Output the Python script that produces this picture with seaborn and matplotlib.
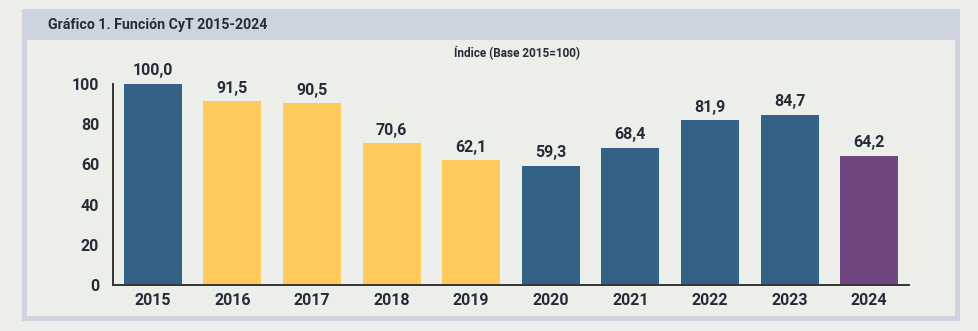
import matplotlib
matplotlib.use("Agg")
import matplotlib.pyplot as plt
from matplotlib.patches import Rectangle
import seaborn as sns
import pandas as pd

years = ["2015", "2016", "2017", "2018", "2019", "2020", "2021", "2022", "2023", "2024"]
values = [100.0, 91.5, 90.5, 70.6, 62.1, 59.3, 68.4, 81.9, 84.7, 64.2]
groups = ["a", "b", "b", "b", "b", "a", "a", "a", "a", "c"]
palette = {"a": "#336286", "b": "#ffc95c", "c": "#6f4680"}
title = "Gráfico 1. Función CyT 2015-2024"
subtitle = "Índice (Base 2015=100)"
yticks = [0, 20, 40, 60, 80, 100]

sns.set_theme(style="white")
plt.rcParams["font.family"] = ["Roboto", "DejaVu Sans"]
txt = "#272b38"

W, H = 979, 331
fig = plt.figure(figsize=(W / 100, H / 100), dpi=100)
bg = "#eceee9"
frame = "#cdd3df"
fig.patch.set_facecolor(bg)

def fr(x0, y0, x1, y1, color, z):
    fig.patches.append(Rectangle((x0 / W, 1 - y1 / H), (x1 - x0) / W, (y1 - y0) / H,
                                 transform=fig.transFigure, facecolor=color,
                                 edgecolor="none", zorder=z))

fr(22, 9, 960, 321, frame, -3)
fr(27, 40, 955, 316, bg, -2)

fig.text(48 / W, 1 - 25 / H, title, fontsize=10.2, fontweight="bold", color=txt,
         va="center", ha="left")
fig.text(517 / W, 1 - 53 / H, subtitle, fontsize=8.5, fontweight="bold", color=txt,
         va="center", ha="center")

ax = fig.add_axes([113 / W, 1 - 285 / H, (909 - 113) / W, (285 - 84) / H])
ax.set_facecolor("none")
df = pd.DataFrame({"year": years, "value": values, "group": groups})
sns.barplot(data=df, x="year", y="value", hue="group", palette=palette,
            dodge=False, legend=False, width=0.73, ax=ax, zorder=3, saturation=1,
            linewidth=0, edgecolor="none")
ax.set_xlim(-0.5, 9.5)
ax.set_ylim(0, 100)
ax.set_xlabel("")
ax.set_ylabel("")
ax.set_yticks(yticks)
ax.set_yticklabels([str(t) for t in yticks])
ax.set_xticks(range(len(years)))
ax.set_xticklabels(years)
ax.set_xticks([i + 0.5 for i in range(len(years))], minor=True)
ax.tick_params(axis="x", which="major", length=0, pad=6, labelsize=11.5, colors=txt)
ax.tick_params(axis="x", which="minor", length=4, width=1.3, direction="in", color="#333333")
ax.tick_params(axis="y", which="major", length=11, width=1.3, direction="in",
               color="#333333", labelsize=11.5, labelcolor=txt, pad=10)
for lab in ax.get_xticklabels() + ax.get_yticklabels():
    lab.set_fontweight("bold")
for s in ["top", "right"]:
    ax.spines[s].set_visible(False)
for s in ["left", "bottom"]:
    ax.spines[s].set_color("#333333")
    ax.spines[s].set_linewidth(1.4)
    ax.spines[s].set_zorder(4)
ax.grid(False)
for i, v in enumerate(values):
    ax.annotate(f"{v:.1f}".replace(".", ","), (i, v), xytext=(0, 4),
                textcoords="offset points", ha="center", va="bottom",
                fontsize=11.5, fontweight="bold", color=txt, annotation_clip=False)

fig.savefig("out.png", dpi=100, facecolor=bg)
